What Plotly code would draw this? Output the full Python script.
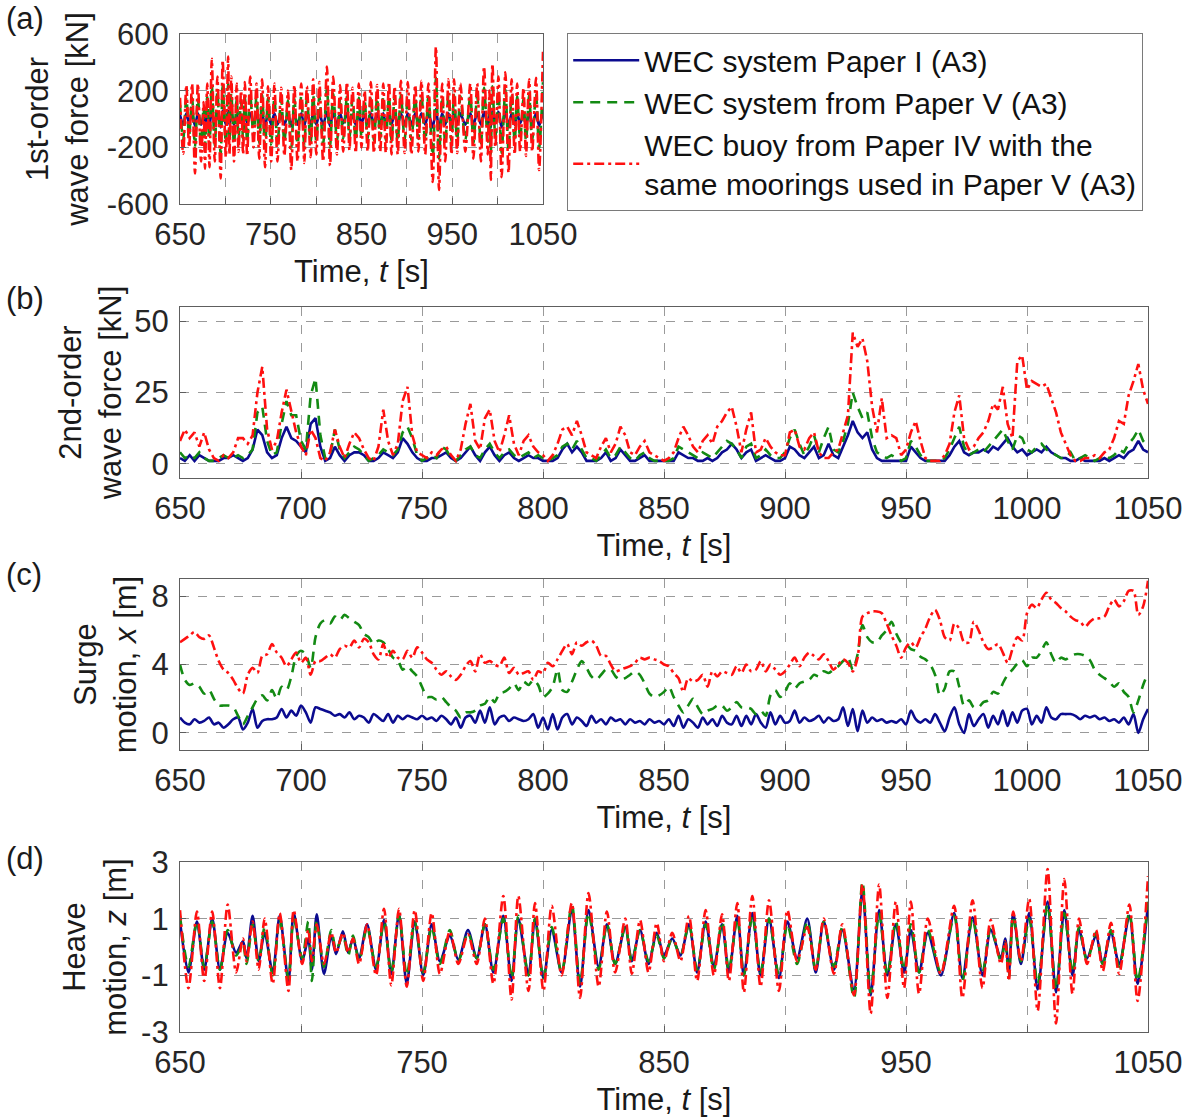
import plotly.graph_objects as go

# ---------------- data ----------------
# shared wave-cycle extrema times (s) for panels (a) and (d)
t_ext = [650.0, 653.5, 657.0, 660.0, 663.3, 666.5, 669.7, 673.2, 676.0, 677.5,
         680.0, 682.5, 685.0, 688.3, 691.2, 694.8, 697.0, 700.5, 703.0, 704.5,
         706.5, 709.5, 712.5, 714.5, 717.3, 719.5, 721.5, 724.0, 727.3, 731.0,
         734.3, 737.3, 740.5, 743.7, 747.0, 750.5, 754.0, 757.4, 761.5, 765.0,
         769.0, 772.6, 776.0, 779.5, 783.6, 787.0, 789.8, 794.0, 796.7, 800.2,
         803.6, 807.7, 811.9, 815.3, 818.8, 823.0, 826.4, 829.8, 834.0, 836.7,
         840.1, 843.6, 847.0, 850.0, 853.4, 856.8, 860.3, 863.7, 867.2, 870.6,
         874.0, 876.8, 880.3, 883.0, 886.5, 889.9, 893.4, 897.5, 901.0, 905.0,
         909.2, 912.7, 916.0, 920.2, 923.7, 928.5, 932.0, 935.4, 938.9, 942.3,
         945.8, 949.2, 952.0, 955.4, 959.0, 964.4, 969.9, 973.3, 977.5, 981.6,
         985.0, 989.2, 991.0, 992.5, 994.3, 997.5, 1000.9, 1004.4, 1008.5, 1012.0,
         1015.4, 1018.8, 1021.5, 1024.8, 1028.5, 1031.3, 1034.7, 1038.1, 1042.3, 1045.7,
         1050.0]

# (a) 1st-order wave force [kN]
f1_paper1 = [30, -40, 40, -30, 40, -50, 40, -40, 20, -40,
             50, -50, 60, -40, 50, -60, 60, -40, 60, -40,
             50, -40, 30, -30, 30, -30, 40, -30, 40, -30,
             40, -40, 40, -50, 40, -40, 40, -40, 30, -40,
             30, -50, 40, -40, 40, -50, 40, -40, 40, -40,
             40, -40, 50, -50, 40, -40, 40, -30, 40, -30,
             30, -40, 30, -30, 30, -30, 40, -40, 40, -30,
             40, -40, 40, -40, 40, -40, 40, -40, 40, -40,
             40, -30, 40, -40, 40, -60, 70, -70, 40, -40,
             40, -40, 40, -40, 40, -40, 40, -40, 40, -40,
             50, -40, 30, -60, 60, -30, 50, -60, 50, -50,
             40, -40, 40, -30, 30, -40, 40, -40, 40, -50,
             60]
f1_paper5 = [100, -150, 150, -120, 150, -200, 150, -180, 80, -200,
             160, -200, 240, -190, 190, -250, 240, -170, 250, -160,
             190, -180, 150, -140, 130, -150, 160, -160, 180, -130,
             160, -170, 170, -200, 150, -180, 150, -180, 140, -160,
             130, -210, 150, -180, 160, -190, 150, -170, 170, -160,
             160, -180, 220, -200, 180, -160, 150, -140, 160, -140,
             140, -150, 150, -130, 130, -140, 160, -150, 150, -140,
             160, -150, 160, -160, 150, -160, 170, -150, 160, -150,
             150, -140, 170, -160, 160, -260, 290, -280, 160, -180,
             170, -160, 170, -150, 160, -150, 160, -170, 160, -180,
             220, -160, 130, -250, 230, -130, 190, -240, 210, -220,
             170, -160, 160, -140, 140, -160, 170, -150, 180, -210,
             260]
f1_paper4 = [150, -245, 240, -200, 250, -385, 250, -300, 120, -350,
             250, -340, 425, -300, 300, -420, 415, -270, 440, -250,
             300, -300, 250, -230, 200, -250, 260, -260, 300, -200,
             250, -280, 280, -340, 230, -300, 250, -300, 220, -260,
             200, -360, 240, -300, 250, -310, 230, -270, 280, -250,
             260, -300, 370, -330, 300, -250, 240, -230, 260, -220,
             220, -240, 250, -200, 200, -230, 260, -240, 240, -230,
             250, -240, 260, -250, 230, -250, 270, -240, 260, -250,
             240, -230, 270, -250, 250, -445, 510, -500, 250, -300,
             280, -250, 280, -240, 250, -230, 250, -280, 250, -300,
             370, -250, 200, -430, 390, -200, 300, -410, 330, -380,
             280, -250, 250, -230, 220, -260, 280, -230, 290, -360,
             475]

# (d) heave motion z [m]
z_paper1 = [0.9, -0.9, 0.9, -0.8, 1.0, -0.8, 0.5, -0.2, 0.2, -0.4,
            1.1, -0.5, 0.5, -0.9, 1.1, -1.2, 1.2, -0.5, 0.3, -0.8,
            1.15, -0.95, 0.4, -0.25, 0.55, -0.2, 0.3, -0.4, 0.8, -0.8,
            0.95, -0.95, 1.15, -1.3, 0.9, -1.0, 0.8, -0.5, 0.4, -0.45,
            0.6, -0.4, 0.8, -0.9, 1.1, -1.2, 1.0, -1.0, 1.0, -1.1,
            0.6, -0.9, 1.3, -1.4, 1.3, -0.7, 0.8, -0.6, 0.7, -0.5,
            0.6, -0.6, 0.5, -0.3, 0.3, -0.3, 0.8, -0.9, 0.9, -0.7,
            0.8, -0.9, 1.1, -1.0, 1.2, -1.0, 1.0, -1.1, 0.9, -0.4,
            1.0, -0.9, 0.9, -0.8, 0.6, -1.5, 2.0, -1.7, 1.3, -1.0,
            0.8, -0.9, 0.6, -0.9, 0.5, -1.0, 1.2, -1.1, 1.05, -1.0,
            0.6, -0.4, 0.3, -0.9, 1.2, -0.6, 1.2, -1.5, 1.6, -1.6,
            1.3, -1.0, 0.6, -0.4, 0.4, -0.6, 0.5, -0.6, 1.1, -1.3,
            1.5]
z_paper5 = [1.1, -0.7, 0.9, -0.7, 0.9, -0.8, 0.6, -0.3, 0.1, -0.6,
            0.8, -0.5, 0.7, -1.0, 1.0, -1.1, 1.0, -0.4, 0.9, -1.2,
            0.9, -0.7, 0.6, -0.1, 0.4, -0.3, 0.4, -0.5, 0.7, -0.7,
            0.9, -0.9, 1.1, -1.0, 0.9, -0.9, 0.7, -0.6, 0.6, -0.5,
            0.5, -0.4, 0.8, -0.8, 1.0, -1.1, 1.1, -1.0, 1.0, -1.1,
            0.7, -0.9, 1.5, -1.3, 1.2, -0.8, 0.8, -0.6, 0.7, -0.5,
            0.6, -0.5, 0.4, -0.4, 0.3, -0.3, 0.8, -0.8, 0.8, -0.8,
            0.9, -0.8, 1.0, -1.0, 1.1, -0.9, 1.0, -1.0, 0.8, -0.6,
            0.9, -0.8, 0.9, -0.7, 0.7, -1.8, 2.3, -1.6, 1.2, -1.0,
            0.9, -0.8, 0.8, -0.9, 0.6, -0.9, 1.1, -1.2, 1.0, -0.9,
            0.7, -0.5, 0.2, -1.1, 1.1, -0.5, 1.0, -1.3, 1.5, -1.5,
            1.2, -0.9, 0.7, -0.5, 0.5, -0.6, 0.6, -0.7, 1.2, -1.2,
            1.6]
z_paper4 = [1.3, -1.45, 1.25, -1.2, 1.25, -1.45, 1.5, -0.9, 0.3, -0.5,
            0.9, -0.8, 1.0, -1.3, 1.2, -1.55, 1.3, -0.6, 0.6, -0.5,
            0.8, -0.6, 0.5, -0.2, 0.5, -0.2, 0.3, -0.6, 0.8, -1.0,
            1.35, -1.35, 1.35, -1.4, 1.3, -1.2, 1.2, -0.95, 0.55, -0.6,
            0.45, -0.6, 1.0, -1.3, 1.8, -1.85, 1.8, -1.55, 1.55, -1.55,
            1.45, -1.0, 1.55, -1.8, 1.9, -1.4, 1.25, -0.9, 1.0, -0.95,
            0.95, -0.9, 0.85, -0.5, 0.5, -0.5, 1.1, -1.2, 1.3, -1.0,
            1.15, -1.2, 1.55, -1.6, 1.8, -1.4, 1.65, -1.55, 1.3, -0.5,
            0.7, -0.8, 1.0, -0.95, 0.8, -1.7, 2.2, -2.35, 2.2, -1.8,
            1.6, -1.45, 1.6, -1.65, 1.0, -0.95, 1.45, -1.8, 1.65, -1.45,
            0.95, -0.6, 0.2, -1.2, 1.25, -0.5, 1.7, -2.25, 2.75, -2.7,
            2.4, -1.65, 1.0, -0.6, 0.6, -0.85, 0.85, -0.95, 1.5, -1.9,
            2.5]

# time grid (2 s) for panels (b) and (c)
t_grid = list(range(650, 1051, 2))

# (b) 2nd-order wave force [kN]
f2_paper1 = [2, 1, 3, 1, 3, 2, 1, 1, 1, 2,
             2, 3, 2, 1, 2, 5, 12, 10, 4, 2,
             3, 9, 13, 9, 8, 6, 4, 14, 16, 6,
             1, 2, 6, 3, 1, 3, 4, 4, 3, 1,
             1, 2, 4, 3, 2, 4, 9, 7, 4, 2,
             1, 1, 2, 2, 3, 4, 2, 1, 2, 4,
             6, 3, 1, 4, 6, 3, 1, 3, 4, 2,
             1, 2, 3, 2, 2, 1, 1, 1, 2, 5,
             7, 4, 6, 4, 1, 1, 1, 2, 4, 1,
             2, 5, 3, 1, 1, 2, 3, 1, 1, 1,
             1, 1, 1, 4, 3, 2, 2, 1, 1, 2,
             1, 2, 4, 5, 7, 5, 2, 4, 5, 1,
             2, 3, 2, 1, 1, 2, 6, 5, 3, 2,
             4, 6, 2, 3, 7, 3, 2, 6, 10, 15,
             11, 9, 11, 5, 2, 1, 1, 1, 1, 1,
             1, 6, 4, 2, 1, 1, 1, 1, 1, 3,
             6, 8, 4, 3, 4, 4, 5, 4, 6, 5,
             7, 9, 6, 4, 5, 3, 4, 5, 4, 6,
             4, 3, 2, 2, 1, 1, 2, 1, 1, 1,
             1, 2, 1, 2, 3, 2, 4, 5, 8, 5,
             4]
f2_paper5 = [4, 2, 3, 2, 4, 2, 1, 1, 2, 3,
             2, 2, 3, 2, 3, 5, 18, 20, 8, 3,
             4, 14, 22, 17, 17, 8, 5, 24, 30, 10,
             2, 3, 12, 5, 2, 4, 6, 5, 3, 1,
             2, 3, 5, 4, 3, 5, 11, 13, 9, 3,
             1, 2, 3, 2, 6, 5, 2, 1, 3, 5,
             6, 3, 2, 5, 7, 4, 2, 4, 5, 3,
             2, 3, 4, 2, 3, 2, 1, 2, 3, 6,
             7, 5, 8, 5, 2, 2, 1, 3, 5, 2,
             3, 6, 4, 2, 1, 3, 4, 2, 1, 1,
             1, 1, 2, 6, 5, 4, 3, 2, 4, 3,
             2, 4, 6, 8, 7, 5, 2, 6, 7, 2,
             3, 5, 3, 2, 2, 4, 9, 12, 7, 3,
             6, 10, 4, 9, 13, 5, 4, 8, 14, 25,
             20, 16, 18, 9, 4, 3, 2, 3, 2, 1,
             2, 8, 6, 3, 1, 1, 1, 1, 2, 5,
             9, 13, 6, 3, 4, 5, 4, 6, 8, 10,
             12, 8, 5, 10, 9, 5, 4, 6, 7, 5,
             4, 3, 2, 2, 4, 1, 2, 3, 2, 1,
             2, 3, 2, 3, 5, 4, 7, 9, 12, 8,
             6]
f2_paper4 = [8, 12, 9, 11, 6, 11, 5, 2, 1, 3,
             2, 4, 9, 9, 7, 10, 25, 34, 12, 5,
             8, 18, 26, 19, 11, 6, 3, 12, 9, 2,
             1, 4, 12, 6, 2, 7, 11, 9, 5, 2,
             1, 6, 19, 8, 3, 7, 22, 27, 10, 4,
             3, 2, 4, 3, 5, 6, 3, 1, 5, 14,
             21, 8, 5, 16, 19, 8, 4, 10, 17, 7,
             3, 8, 10, 6, 4, 3, 1, 3, 7, 12,
             13, 10, 15, 10, 4, 3, 2, 6, 9, 4,
             7, 13, 10, 4, 3, 6, 8, 4, 3, 2,
             1, 2, 4, 9, 13, 10, 6, 4, 8, 10,
             7, 13, 15, 18, 20, 13, 4, 12, 18, 4,
             5, 9, 6, 4, 3, 3, 11, 12, 6, 5,
             9, 11, 4, 2, 2, 4, 5, 11, 17, 46,
             41, 44, 36, 20, 11, 23, 9, 10, 9, 3,
             5, 11, 15, 8, 2, 1, 1, 1, 3, 7,
             18, 24, 9, 5, 6, 9, 11, 15, 21, 19,
             27, 14, 9, 36, 38, 26, 29, 28, 27, 28,
             23, 18, 11, 7, 3, 1, 1, 2, 2, 3,
             2, 4, 5, 9, 15, 14, 24, 29, 35, 26,
             21]

# (c) surge motion x [m]
x_paper1 = [0.9, 0.6, 0.5, 0.8, 0.6, 0.7, 0.9, 0.5, 0.6, 0.3,
            0.5, 0.8, 0.9, 0.2, 0.6, 1.4, 0.3, 0.7, 0.8, 0.8,
            0.9, 1.4, 0.9, 1.3, 1.0, 1.6, 1.2, 0.6, 1.5, 1.4,
            1.3, 1.2, 1.0, 1.1, 0.9, 1.2, 0.8, 1.0, 0.9, 0.6,
            1.1, 0.9, 0.7, 1.1, 0.6, 1.0, 0.8, 1.0, 0.9, 0.8,
            1.0, 0.8, 0.9, 0.7, 1.0, 0.8, 0.5, 0.9, 0.3, 0.9,
            1.0, 0.6, 1.3, 0.6, 1.5, 0.5, 0.9, 1.0, 0.7, 0.9,
            0.8, 0.7, 0.8, 1.1, 0.3, 0.9, 0.2, 1.1, 0.2, 0.9,
            1.1, 0.5, 0.9, 0.7, 0.4, 1.0, 0.6, 0.8, 0.5, 0.9,
            0.7, 0.8, 0.5, 0.8, 0.6, 0.7, 0.5, 0.8, 0.6, 0.7,
            0.5, 0.8, 0.4, 1.0, 0.3, 0.8, 0.6, 0.3, 0.9, 0.5,
            0.8, 0.4, 1.0, 0.6, 0.5, 1.0, 0.4, 1.0, 0.5, 1.1,
            0.6, 0.3, 1.2, 0.5, 1.0, 0.6, 0.7, 1.3, 0.6, 0.9,
            0.7, 0.8, 1.0, 0.6, 0.9, 0.7, 0.8, 1.5, 0.4, 1.4,
            0.1, 1.3, 0.6, 0.9, 0.7, 0.8, 0.6, 0.7, 0.6, 0.8,
            0.5, 1.3, 0.8, 0.6, 0.8, 0.6, 1.1, 0.6, 0.1, 0.9,
            1.5, 0.5, 0.0, 1.1, 0.4, 0.8, 1.1, 0.3, 1.0, 0.5,
            1.3, 0.4, 1.2, 0.6, 1.3, 1.4, 0.5, 1.0, 0.6, 1.5,
            0.9, 0.8, 1.1, 1.1, 1.1, 1.0, 0.8, 1.0, 0.9, 1.0,
            0.8, 0.9, 0.7, 0.8, 0.6, 0.9, 0.5, 1.1, 0.0, 0.8,
            1.4]
x_paper5 = [4.0, 3.1, 2.8, 2.9, 2.7, 2.3, 2.5, 2.0, 1.6, 1.6,
            1.6, 1.5, 1.0, 0.5, 1.0, 1.5, 2.0, 2.2, 1.9, 2.5,
            2.0, 2.7, 2.5, 3.3, 4.5, 4.8, 4.6, 3.8, 5.6, 6.4,
            6.6, 6.4, 6.8, 6.6, 6.9, 6.7, 6.5, 6.3, 5.8, 5.6,
            5.2, 5.4, 5.3, 4.9, 4.4, 4.25, 3.7, 3.9, 3.6, 3.3,
            2.7, 2.1, 2.1, 1.95, 2.1, 1.8, 1.5, 1.3, 0.9, 1.2,
            1.2, 1.3, 1.6, 1.7, 2.1, 1.8, 2.3, 2.4, 2.6, 2.9,
            2.5, 3.0, 2.8, 3.1, 2.8, 2.1, 2.3, 2.7, 3.7, 2.5,
            2.4, 3.0, 3.7, 4.2, 3.8, 3.3, 3.1, 3.4, 3.7, 3.7,
            3.3, 3.1, 3.2, 3.4, 3.6, 3.4, 2.9, 2.3, 2.1, 2.2,
            2.4, 2.7, 2.1, 1.6, 1.2, 1.6, 2.0, 1.5, 1.1, 1.3,
            1.4, 1.6, 1.6, 1.3, 1.5, 1.8, 1.5, 1.5, 1.4, 1.1,
            1.3, 1.0, 2.2, 2.5, 2.1, 2.4, 2.9, 2.6, 2.9, 3.0,
            3.1, 3.4, 3.3, 3.6, 3.5, 3.7, 3.9, 4.2, 4.4, 3.7,
            4.6, 6.3, 5.6, 5.3, 5.3, 5.7, 6.0, 6.5, 5.8, 5.3,
            5.2, 4.9, 4.8, 4.45, 4.3, 4.0, 3.4, 2.2, 2.6, 3.6,
            3.6, 2.7, 1.6, 1.9, 1.5, 1.5, 1.8, 1.9, 2.4, 2.3,
            2.9, 3.4, 3.7, 4.05, 4.25, 3.9, 4.4, 4.4, 4.8, 5.3,
            4.6, 4.1, 4.4, 4.3, 4.5, 4.6, 4.6, 4.5, 4.25, 3.7,
            3.4, 3.2, 3.0, 2.7, 2.9, 2.4, 2.1, 1.2, 1.9, 2.8,
            3.5]
x_paper4 = [5.3, 5.5, 5.7, 5.9, 5.6, 5.5, 5.7, 5.0, 4.2, 3.7,
            3.5, 3.1, 2.6, 2.3, 3.4, 3.8, 3.5, 4.5, 4.6, 5.2,
            4.7, 4.4, 3.9, 4.3, 4.7, 4.1, 4.4, 3.4, 4.2, 4.2,
            4.4, 4.6, 4.4, 4.9, 5.1, 5.0, 5.4, 5.0, 5.5, 5.3,
            4.6, 4.3, 5.2, 4.4, 4.8, 4.4, 4.3, 4.8, 4.4, 5.0,
            4.7, 4.3, 4.1, 3.7, 3.4, 3.6, 3.3, 3.1, 3.4, 3.9,
            4.2, 3.6, 4.6, 4.1, 4.2, 4.0, 3.9, 4.4, 3.5, 3.8,
            3.4, 3.5, 3.6, 3.1, 3.6, 3.5, 4.1, 3.9, 4.3, 4.8,
            5.2, 4.6, 5.3, 5.1, 5.3, 5.4, 5.1, 4.5, 4.5, 4.0,
            3.6, 3.7, 3.8, 3.9, 4.1, 4.4, 4.3, 4.4, 4.3, 4.2,
            4.0, 3.9, 3.5, 3.2, 2.4, 3.2, 3.0, 3.1, 3.4, 2.7,
            3.6, 3.3, 3.6, 3.5, 3.4, 3.9, 3.5, 4.0, 3.6, 3.7,
            4.2, 3.6, 4.0, 3.7, 3.4, 3.6, 4.0, 4.4, 3.9, 4.4,
            4.7, 4.5, 4.3, 4.6, 4.2, 3.7, 4.0, 4.3, 4.1, 3.6,
            4.4, 6.8, 7.0, 7.1, 7.1, 7.0, 6.4, 5.7, 5.1, 4.4,
            5.0, 5.3, 5.0, 5.6, 6.1, 6.8, 7.2, 6.6, 5.6, 5.4,
            6.4, 6.1, 5.3, 5.3, 6.5, 6.0, 5.3, 4.9, 5.0, 5.2,
            4.7, 4.1, 4.9, 5.6, 5.4, 7.0, 7.5, 7.3, 7.8, 8.2,
            7.8, 7.6, 7.3, 7.1, 6.8, 6.6, 6.5, 6.2, 6.5, 6.7,
            6.7, 6.8, 7.4, 7.8, 7.4, 7.7, 8.3, 8.3, 6.9, 7.4,
            8.9]

series_names = ["WEC system Paper I (A3)",
                "WEC system from Paper V (A3)",
                "WEC buoy from Paper IV with the<br>same moorings used in Paper V (A3)"]

# tick values / labels
tv50 = list(range(650, 1051, 50))
tt_alt = [str(v) if (v - 650) % 100 == 0 else "" for v in tv50]
tt_all = [str(v) for v in tv50]
ya_vals, ya_text = [-600, -200, 200, 600], ["-600", "-200", "200", "600"]
yb_vals, yb_text = [0, 25, 50], ["0", "25", "50"]
yc_vals, yc_text = [0, 4, 8], ["0", "4", "8"]
yd_vals, yd_text = [-3, -1, 1, 3], ["-3", "-1", "1", "3"]

# ---------------- styling ----------------
FONT = "Liberation Sans, Arial, Helvetica, sans-serif"
FS = 31
BLUE, GREEN, RED = "#0b0b8f", "#138a13", "#ff1010"
styles = [dict(color=BLUE, width=2.6, dash="solid"),
          dict(color=GREEN, width=2.6, dash="10px,7px"),
          dict(color=RED, width=2.6, dash="10px,4px,3px,4px")]

fig = go.Figure()

panels = [
    ("x", "y", t_ext, [f1_paper1, f1_paper5, f1_paper4], "spline"),
    ("x2", "y2", t_grid, [f2_paper1, f2_paper5, f2_paper4], "linear"),
    ("x3", "y3", t_grid, [x_paper1, x_paper5, x_paper4], "spline"),
    ("x4", "y4", t_ext, [z_paper1, z_paper5, z_paper4], "spline"),
]
for pi, (xa, ya, tt, ys, shape) in enumerate(panels):
    for si, yv in enumerate(ys):
        fig.add_trace(go.Scatter(
            x=tt, y=yv, mode="lines", xaxis=xa, yaxis=ya,
            name=series_names[si], legendgroup=str(si),
            showlegend=(pi == 0),
            line=dict(shape=shape, smoothing=0.8 if shape == "spline" else None, **styles[si]),
            hoverinfo="skip"))

W, H = 1193, 1119
L, R = 180 / W, 1148 / W
RA = 543 / W
def yd(top, bot):
    return [1 - bot / H, 1 - top / H]

common_ax = dict(showline=True, linecolor="#5e5e5e", linewidth=1.2, mirror=True,
                 ticks="inside", ticklen=6, tickcolor="#5e5e5e",
                 showgrid=True, gridcolor="#9a9a9a", gridwidth=1, griddash="dash",
                 zeroline=False, tickfont=dict(family=FONT, size=FS, color="#262626"),
                 automargin=False)

xtitle = dict(text="Time, <i>t</i> [s]", font=dict(family=FONT, size=FS, color="#1a1a1a"), standoff=9)

def xaxis(domain, ticktext, anchor):
    return dict(common_ax, domain=domain, range=[650, 1050], tickmode="array",
                tickvals=tv50, ticktext=ticktext, anchor=anchor, title=xtitle,
                ticklabelstandoff=3)

def yaxis(domain, rng, tickvals, ticktext, title, anchor, standoff):
    return dict(common_ax, domain=domain, range=rng, tickmode="array", tickvals=tickvals,
                ticktext=ticktext, anchor=anchor, ticklabelstandoff=4,
                title=dict(text=title, font=dict(family=FONT, size=FS, color="#1a1a1a"),
                           standoff=standoff))

fig.update_layout(
    width=W, height=H, margin=dict(l=0, r=0, t=0, b=0),
    paper_bgcolor="white", plot_bgcolor="white",
    font=dict(family=FONT, size=FS, color="#1a1a1a"),
    xaxis=xaxis([L, RA], tt_alt, "y"),
    yaxis=yaxis(yd(34, 204), [-600, 600], ya_vals, ya_text,
                "1st-order<br>wave force [kN]", "x", 8),
    xaxis2=xaxis([L, R], tt_all, "y2"),
    yaxis2=yaxis(yd(307, 478), [-5, 55], yb_vals, yb_text,
                 "2nd-order<br>wave force [kN]", "x2", 3),
    xaxis3=xaxis([L, R], tt_all, "y3"),
    yaxis3=yaxis(yd(579, 750), [-1, 9], yc_vals, yc_text,
                 "Surge<br>motion, <i>x</i> [m]", "x3", 5),
    xaxis4=xaxis([L, R], tt_alt, "y4"),
    yaxis4=yaxis(yd(862, 1032), [-3, 3], yd_vals, yd_text,
                 "Heave<br>motion, <i>z</i> [m]", "x4", 5),
    legend=dict(x=567 / W, y=1 - 33 / H, xanchor="left", yanchor="top",
                bordercolor="#7a7a7a", borderwidth=1.2, bgcolor="white",
                font=dict(family=FONT, size=30, color="#111111"),
                itemwidth=66, tracegroupgap=0),
    showlegend=True,
)

for lab, ypx in [("(a)", 18), ("(b)", 298), ("(c)", 574), ("(d)", 858)]:
    fig.add_annotation(text=lab, x=4 / W, y=1 - ypx / H, xref="paper", yref="paper",
                       xanchor="left", yanchor="middle", showarrow=False,
                       font=dict(family=FONT, size=FS, color="#1a1a1a"))

fig.write_html("out.html")
